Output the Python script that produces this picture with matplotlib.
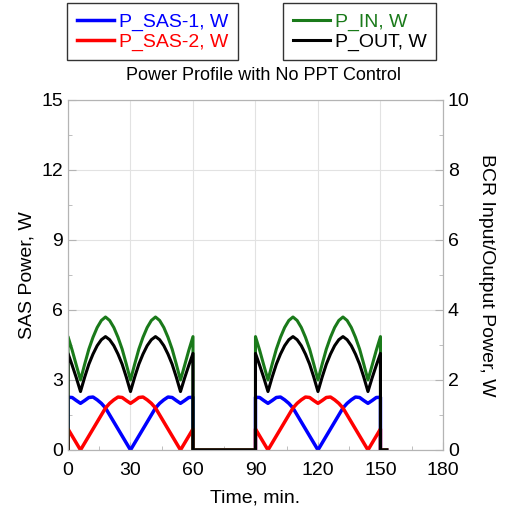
import numpy as np
import matplotlib
matplotlib.use("Agg")
import matplotlib.pyplot as plt
from matplotlib.ticker import MultipleLocator

plt.rcParams["font.family"] = ["Liberation Sans", "DejaVu Sans"]

arc_t = [0, 2, 4, 6, 8, 10, 12, 14, 16, 18, 20, 22, 24, 26, 28, 30,
         32, 34, 36, 38, 40, 42, 44, 46, 48, 50, 52, 54, 56, 58, 60]
p_sas1 = [2.26, 2.25, 2.12, 2.0, 2.12, 2.25, 2.27, 2.15, 2.0, 1.8, 1.5, 1.2, 0.9, 0.6, 0.3, 0.0,
          0.3, 0.6, 0.9, 1.2, 1.5, 1.8, 2.0, 2.15, 2.27, 2.25, 2.12, 2.0, 2.12, 2.25, 2.26]
p_sas2 = [0.9, 0.6, 0.3, 0.0, 0.3, 0.6, 0.9, 1.2, 1.5, 1.8, 2.0, 2.15, 2.27, 2.25, 2.12, 2.0,
          2.12, 2.25, 2.27, 2.15, 2.0, 1.8, 1.5, 1.2, 0.9, 0.6, 0.3, 0.0, 0.3, 0.6, 0.9]
p_in = [3.24, 2.85, 2.42, 2.0, 2.45, 2.88, 3.22, 3.5, 3.7, 3.8, 3.7, 3.5, 3.22, 2.88, 2.45, 2.0,
        2.45, 2.88, 3.22, 3.5, 3.7, 3.8, 3.7, 3.5, 3.22, 2.88, 2.45, 2.0, 2.42, 2.85, 3.24]
p_out = [2.76, 2.42, 2.06, 1.67, 2.08, 2.45, 2.74, 2.98, 3.15, 3.24, 3.15, 2.98, 2.74, 2.45, 2.08, 1.67,
         2.08, 2.45, 2.74, 2.98, 3.15, 3.24, 3.15, 2.98, 2.74, 2.45, 2.08, 1.67, 2.06, 2.42, 2.76]

sun_starts = [0, 90]      # start of each sunlit arc, min
eclipse = [60, 90]        # eclipse window, min
end_t = 153


def orbit_series(arc):
    t = [0.0]
    v = [0.0]
    for i, t0 in enumerate(sun_starts):
        t += [t0 + a for a in arc_t]
        v += list(arc)
        t += [t0 + arc_t[-1]]
        v += [0.0]
        if i == 0:
            t += [eclipse[1]]
            v += [0.0]
    t += [end_t]
    v += [0.0]
    return np.array(t), np.array(v)


GRAY = "#b4b4b4"
fig = plt.figure(figsize=(5.06, 5.17), dpi=100)
ax = fig.add_axes([0.1344, 0.1296, 0.741, 0.677])
ax2 = ax.twinx()

l1, = ax.plot(*orbit_series(p_sas1), color="#0000ff", lw=2.5, label="P_SAS-1, W")
l2, = ax.plot(*orbit_series(p_sas2), color="#ff0000", lw=2.5, label="P_SAS-2, W")
l3, = ax2.plot(*orbit_series(p_in), color="#1a7a1a", lw=2.2, label="P_IN, W")
l4, = ax2.plot(*orbit_series(p_out), color="black", lw=2.2, label="P_OUT, W")

ax.set_xlim(0, 180)
ax.set_ylim(0, 15)
ax2.set_ylim(0, 10)
ax.xaxis.set_major_locator(MultipleLocator(30))
ax.xaxis.set_minor_locator(MultipleLocator(15))
ax.yaxis.set_major_locator(MultipleLocator(3))
ax.yaxis.set_minor_locator(MultipleLocator(1.5))
ax2.yaxis.set_major_locator(MultipleLocator(2))
ax2.yaxis.set_minor_locator(MultipleLocator(1))
ax.grid(True, which="major", color="#e2e2e2", lw=0.8)
ax.set_axisbelow(True)

for a in (ax, ax2):
    for s in a.spines.values():
        s.set_color(GRAY)
    a.tick_params(which="both", direction="in", color=GRAY, labelsize=14,
                  top=False)
    a.tick_params(which="major", length=6)
    a.tick_params(which="minor", length=3)
ax.tick_params(axis="y", which="both", right=False)
ax.tick_params(axis="x", pad=9)

ax.set_xlabel("Time, min.", fontsize=14, labelpad=7)
ax.set_ylabel("SAS Power, W", fontsize=14, labelpad=4)
ax2.set_ylabel("BCR Input/Output Power, W", fontsize=14, rotation=270, labelpad=18)

leg_kw = dict(fontsize=14, frameon=True, fancybox=False, edgecolor="black",
              handlelength=1.9, handletextpad=0.25, borderpad=0.5,
              labelspacing=0.12, borderaxespad=0, labelcolor="linecolor",
              bbox_transform=fig.transFigure)
leg1 = fig.legend(handles=[l1, l2], loc="upper left",
                  bbox_to_anchor=(67 / 506, 1 - 3 / 517), **leg_kw)
leg2 = fig.legend(handles=[l3, l4], loc="upper left",
                  bbox_to_anchor=(283 / 506, 1 - 3 / 517), **leg_kw)
for leg in (leg1, leg2):
    leg.get_frame().set_linewidth(1.0)

fig.text(264 / 506, 1 - 76 / 517, "Power Profile with No PPT Control",
         ha="center", va="center", fontsize=13)

fig.savefig("out.png", dpi=100)
